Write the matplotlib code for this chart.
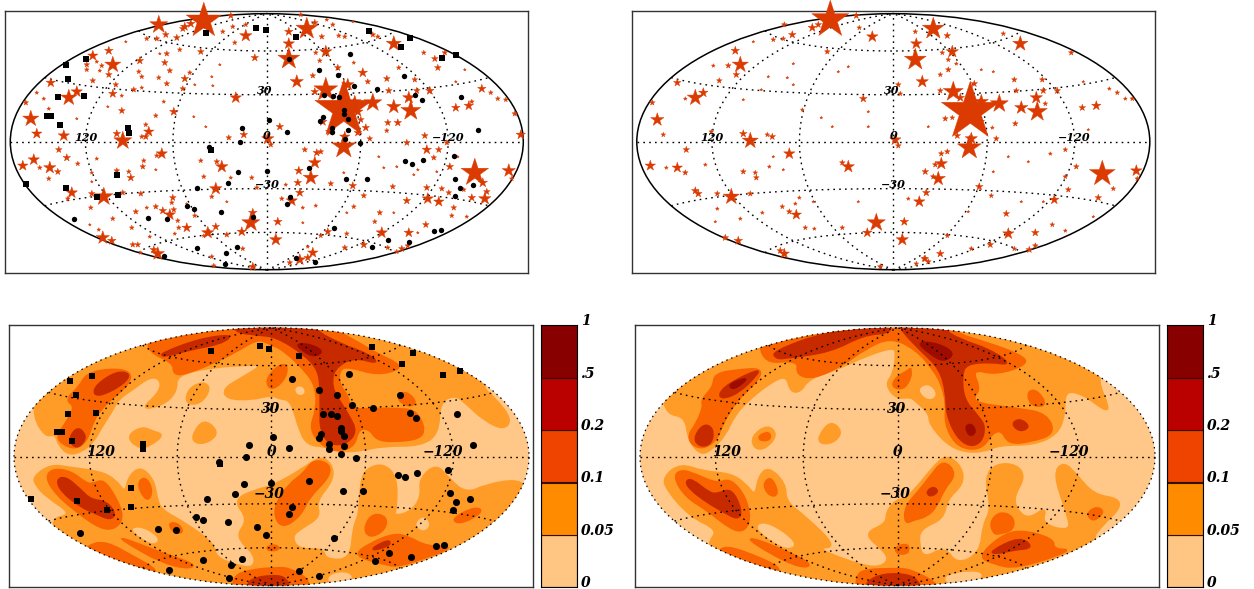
import numpy as np
import matplotlib
matplotlib.use('Agg')
import matplotlib.pyplot as plt
from matplotlib.patches import Ellipse, PathPatch
from matplotlib.path import Path

# all map positions below: plane of the Hammer map, 1 unit = 1 px of the source, origin at map centre
# star tuples are (x, y, weight)
left_stars_a = [(-108,117,9),(-63,121,18),(-82,115,4),(-76,118,4),(-84,113,3),(-101,107,3),(-110,103,2.5),(-120,103,2),(-90,104,3),(-21,106,6),
 (-12,84,3.5),(-32,99,2),(-44,110,2),(-34,115,2),(-36,126,3),(-21,117,2),(-66,90,3),(-87,92,2),(-100,88,2.5),(-102,79,3),
 (-97,71,2.5),(-82,63,3.5),(-77,69,2),(-84,53,2.5),(-100,58,2.5),(-108,64,2),(-127,81,3.5),(-128,70,2),(-125,65,2),(-133,52,2.5),
 (-125,54,1.5),(-154,77,8),(-158,67,3),(-151,57,2.5),(-154,48,4),(-145,46,1.5),(-158,91,4),(-174,86,5),(-180,77,2.5),(-180,72,2),
 (-165,76,2),(-170,80,1.5),(-167,71,1.5),(-174,61,2.5),(-216,59,4.5),(-198,44,8),(-190,50,5.5),(-223,43,1.5),(-230,49,1.5),(-241,39,2.5),
 (-236,23,8),(-218,33,1.5),(-230,8,5),(-203,6,5.5),(-208,-8,3),(-200,-16,3.5),(-233,-18,5.5),(-244,-24,5),(-227,-26,2),(-217,-26,6),
 (-209,-30,3),(-218,-37,2),(-189,-22,2),(-170,-17,1.5),(-175,-31,1.5),(-144,1,9),(-150,8,3.5),(-118,10,5),(-121,5,3),(-121,17,2),
 (-125,5,2),(-145,31,3),(-111,26,2),(-103,40,1.5),(-93,30,4),(-31,44,5.5),(-38,4,2.5),(-23,7,3.5),(-105,-12,5.5),(-110,-14,2),
 (-123,-19,2),(-124,-25,2.5),(-150,-29,2.5),(-138,-30,2),(-136,-36,3.5),(-195,-51,5.5),(-199,-57,2),(-175,-52,3),(-163,-55,9),(-144,-51,2.5),
 (-126,-52,2.5),(-176,-66,2),(-154,-77,2),(-168,-88,1.5),(-164,-96,6.5),(-155,-99,4),(-134,-103,2.5),(-129,-103,2.5),(-126,-111,1.5),(-113,-108,3.5),
 (-109,-112,6.5),(-135,-86,2),(-131,-70,2.5),(-120,-66,1.5),(-111,-65,2.5),(-104,-69,3.5),(-97,-73,5.5),(-94,-56,3),(-95,-61,2),(-93,-68,2.5),
 (-89,-79,2),(-88,-86,2),(-92,-92,1.5),(-80,-86,4.5),(-117,-95,1.5),(-72,-74,2),(-59,-91,6),(-51,-85,3.5),(-63,-35,2),(-66,-19,2),
 (-45,-25,6),(-50,-20,2.5),(-51,-47,6),(-55,-55,2),(-36,-36,1.5),(-15,-36,2),(-10,-46,2),(-16,-81,9),(-14,-71,4),(-25,-90,4.5),
 (-40,-93,2.5),(-63,-94,1.5),(-24,-107,2),(-55,-115,2),(-53,-124,2),(-14,-125,4)]
left_stars_b = [(40,113,11),(22,110,4),(22,98,5.5),(22,83,11),(59,90,6),(30,60,6.5),(55,105,2.5),(48,119,3),(66,117,2),(60,122,1.5),
 (34,127,2),(78,105,2),(72,106,2),(49,89,2),(53,81,2),(71,74,3),(46,66,2.5),(96,69,4.5),(101,60,2.5),(87,79,1.5),
 (120,63,3),(132,74,2),(127,98,7.5),(111,105,2),(106,107,2.5),(157,89,2),(168,83,3),(171,74,3),(178,89,2.5),(148,62,2.5),
 (163,51,4),(150,51,3),(122,51,3),(142,44,6),(127,35,7),(144,31,10),(131,19,3.5),(121,19,3),(120,11,2),(158,6,3),
 (140,-1,3),(160,-8,4.5),(172,-8,3),(180,-1,2.5),(167,-16,2.5),(183,-25,3.5),(208,-31,14),(216,-41,4.5),(220,-50,3),(218,-57,6),
 (205,-56,3.5),(242,-29,6.5),(245,-37,2),(254,7,4.5),(248,28,2.5),(239,42,2),(231,43,2),(224,49,2),(215,53,4),(202,36,4.5),
 (189,34,4),(205,40,2),(172,-60,5),(161,-57,5.5),(160,-46,3),(175,-47,2.5),(182,-51,2.5),(197,-48,2),(140,-59,3.5),(187,-66,2.5),
 (185,-74,2),(200,-75,1.5),(159,-83,3),(142,-91,4.5),(115,-91,5.5),(113,-71,2.5),(108,-80,2),(87,-65,2),(97,-54,2.5),(86,-44,3.5),
 (126,-45,2.5),(64,-42,2.5),(103,3,2.5),(91,9,3.5),(99,14,3.5),(77,-5,12),(78,5,5),(1,3,6),(4,-3,2.5),(13,15,3.5),
 (38,-8,2.5),(50,-11,3.5),(54,-10,2.5),(48,-21,6),(32,-29,4),(44,-36,7.5),(31,-41,3.5),(33,-51,4),(25,-59,5.5),(15,-57,2),
 (36,-66,1.5),(19,-43,1.5),(49,-64,1.5),(11,-80,4),(9,-98,6),(61,-90,3.5),(80,-92,2),(54,-94,2),(41,-105,1.5),(78,-106,2.5),
 (97,-103,3.5),(121,-106,2),(135,-107,3),(141,-104,2.5),(130,-110,2),(46,-111,5),(41,-116,3.5),(33,-118,5.5),(23,-121,2.5),
 (77,32,30),(106,39,9),(88,40,6),(59,52,12),(81,57,6),(91,30,5),(56,20,4),(63,10,4),(48,50,3.5),(94,22,3)]
left_stars_tiny = [(-141,100,1),(-107,88,1),(-190,23,1),(-159,35,1),(-73,25,1),(-61,15,1),(-111,-28,1),(-54,56,1),(-47,77,1),(-55,65,1),
 (-72,57,1),(-177,-83,1),(-175,-40,1),(198,72,1),(189,60,1),(151,-28,1),(147,-33,1),(117,-26,1),(77,-31,1),(191,-15,1),
 (36,-81,1),(127,-71,1),(86,120,1),(80,-71,1),(151,-91,1),(-80,-62,1),(-40,-60,1),(112,-15,1),(130,-25,1),(170,-30,1)]

right_stars_a = [(-63,122,19),(-37,126,3),(-81,114,4),(-75,117,3),(-109,117,2.5),(-101,107,3.5),(-110,103,2),(-120,102,2),(-66,90,2.5),(-34,114,2),
 (-21,105,5.5),(22,82,11),(23,98,5.5),(22,110,2),(29,60,6),(5,57,2.5),(7,48,2),(-30,43,3.5),(-158,91,4),(-153,77,8),
 (-157,67,3),(-165,76,2.5),(-180,76,1.5),(-174,61,2.5),(-216,59,3.5),(-198,44,8),(-190,49,4.5),(-208,43,1.5),(-241,39,2.5),(-236,22,6.5),
 (-230,7,2),(-182,10,2),(-143,1,8),(-150,8,3.5),(-121,5,3),(-126,7,2),(-91,32,1.5),(-104,-12,5.5),(-207,-8,3),(-243,-24,5),
 (-227,-26,1.5),(-216,-26,5),(-208,-31,2.5),(-188,-23,1.5),(-150,-30,2.5),(-138,-31,2),(-137,-36,2.5),(-124,-25,1.5),(-45,-25,6),(-51,-21,2.5),
 (-198,-49,3.5),(-195,-52,3.5),(-176,-52,2.5),(-162,-55,8),(-143,-52,2.5),(-176,-67,1.5),(-153,-77,1.5),(-168,-96,3),(-155,-99,4),(-113,-109,3),
 (-109,-112,5),(-111,-65,2),(-104,-70,2.5),(-97,-73,5),(-88,-86,2),(-79,-87,1.5),(-94,-56,1.5),(-98,-62,1.5),(-131,-71,1.5),(-51,-86,2),
 (-17,-81,9),(-26,-91,4.5),(11,-80,4),(9,-98,6),(-13,-125,2.5),(32,-30,3),(33,-51,3.5),(26,-60,5.5),(15,-57,1.5),(2,2,5.5),
 (5,-4,2.5),(32,-117,3),(23,-122,2)]
right_stars_b = [(40,113,11),(54,106,3),(59,90,6),(49,89,2),(55,82,2),(63,78,1.5),(55,72,2.5),(47,67,2),(60,50,10),(47,51,2.5),
 (77,30,30),(67,44,4),(81,58,3),(88,40,7),(106,38,9),(52,23,2.5),(59,24,2),(87,20,4),(99,14,1.5),(78,3,6),
 (76,-6,12),(64,6,3),(103,3,2.5),(121,62,2.5),(149,62,2.5),(123,51,2.5),(150,51,3),(164,51,3),(143,44,6),(128,34,6.5),
 (144,30,10),(152,38,2),(122,18,2.5),(127,98,7.5),(110,108,2),(178,89,2.5),(189,34,3),(203,36,4.5),(224,49,2),(216,53,1.5),
 (239,43,2),(232,43,1.5),(209,-32,13),(243,-29,5.5),(244,-37,2),(220,-47,2),(205,-56,3),(183,-25,2.5),(175,-48,2.5),(161,-58,4.5),
 (172,-35,2),(172,-8,2),(157,-12,1.5),(86,-45,3.5),(98,-54,2),(48,-12,2.5),(54,-10,2.5),(48,-22,6),(42,-23,2.5),(45,-37,7),
 (40,-35,2.5),(113,-72,3),(115,-92,5.5),(142,-91,3.5),(159,-83,2),(172,-89,1.5),(54,-94,2),(78,-107,2),(97,-103,3),(121,-107,2),
 (136,-108,3),(142,-104,2.5),(47,-112,3.5),(31,-117,3),(35,-120,2.5)]
right_stars_tiny = [(-140,100,1),(-100,78,1),(-125,65,1),(-106,64,1),(-100,57,1),(-132,52,1),(-150,42,1),(-72,24,1),(-61,15,1),(-25,15,1),
 (-55,70,1),(-45,75,1),(-120,-15,1),(-110,-28,1),(-80,-60,1),(-35,-60,1),(-178,-80,1),(-25,30,1),(35,15,1),(115,-15,1),
 (135,-20,1),(100,-30,1),(88,72,1),(100,70,1),(150,-60,1),(200,-75,1),(195,12,1),(190,60,1),(75,-70,1),(128,-60,1)]

# black sources in the top left map
top_squares_x = [-61,-11,-1,-201,-181,-199,-183,-209,-220,-216,-207,-139,-138,-56,-150,-201,-241,-149,-170,102,29,143,134,175,189]
top_squares_y = [109,114,112,77,83,63,46,45,26,26,17,14,9,-8,-33,-46,-42,-53,-55,111,105,104,95,84,87]
top_dots_x = [-193,-119,-100,-80,-73,-46,-70,-39,-29,0,-58,-27,-25,2,-70,-41,-30,-42,-103,-14,22,52,71,83,87,110,137,148,155,194,211,57,66,72,77,77,81,56,53,20,65,65,81,78,93,187,138,145,156,42,79,100,188,193,206,188,23,20,167,174,67,121,142,105,29,48]
top_dots_y = [-77,-76,-77,-64,-67,-70,-46,-41,-30,-29,-5,0,14,22,-106,-111,-105,-122,-114,-75,83,72,67,88,56,53,66,47,42,45,12,47,46,45,32,28,23,25,21,10,14,10,12,3,-1,-14,-19,-22,-18,-26,-37,-37,-37,-46,-43,-54,-55,-62,-89,-88,-86,-98,-100,-105,-116,-120]

# black sources in the bottom left map
low_squares_x = [-60,-11.5,-2,-201,-179,-195,-203,-175,-214,-209,-199,-128,-128,-51,-140,-194,-240,-140,-164,27.5,101,142,131,172,189]
low_squares_y = [106,111,108,76,81,62,43,44,25,25,16,13,8,-7,-31,-44,-42,-50,-53,101,110,104,93,82,86]
low_dots_x = [-191,-113,-95,-75,-68,-43,-64,-36,-27,0,-52,-25,-22,2,-68,-40,-29,-42,-102,-14,-5,21,48,66,78,81,102,129,139,145,186,202,52,60,66,70,70,73,50,48,18,58,58,73,70,84.5,177,127,134,146,38,72,92,179,185,199,182,21,18,165,173,63,118,140,104,28,48]
low_dots_y = [-76,-72,-73,-60,-63,-65,-42,-37,-27,-26,-5,0,12,20,-103,-108,-102,-121,-113,-70,-78,78,67,62,83,52,49,62,44,39,43,12,43,43,41,29,26,21,23,19,9,13,8,11,3,-1,-13,-18,-20,-16,-24,-34,-34,-36,-45,-42,-53,-50,-57,-89,-88,-81,-96,-100,-104,-114,-119]

# filled density bands, bottom left map
p3_orange = [
 [(-240,140),(-235,65),(-238,40),(-226,20),(-216,23),(-213,12),(-203,2),(-190,5),(-178,15),(-171,28),(-160,45),(-153,58),(-138,68),(-122,80),(-111,78),(-111,65),(-131,47),(-108,52),(-95,65),(-95,82),(-58,90),(-18,92),(-8,92),(-31,78),(-48,68),(-45,58),(-20,57),(0,62),(8,58),(18,57),(24,42),(27,30),(35,12),(55,10),(70,5),(88,6),(112,11),(149,11),(167,23),(168,55),(184,62),(195,53),(212,37),(232,27),(240,37),(225,57),(207,73),(240,80),(240,140)],
 [(-200,-140),(-225,-63),(-198,-58),(-225,-40),(-236,-28),(-238,-20),(-221,-8),(-201,-11),(-171,-15),(-156,-23),(-146,-37),(-143,-20),(-131,-10),(-118,-23),(-115,-40),(-111,-53),(-85,-67),(-58,-87),(-56,-100),(-38,-108),(-18,-112),(-16,-98),(-36,-80),(-23,-63),(-38,-43),(-15,-33),(-1,-30),(18,-20),(34,-10),(49,0),(60,-7),(62,-23),(44,-45),(49,-60),(29,-72),(20,-80),(27,-93),(52,-92),(54,-103),(79,-103),(82,-70),(88,-57),(89,-26),(95,-12),(112,-7),(125,-20),(125,-50),(122,-60),(140,-55),(150,-40),(148,-22),(165,-7),(178,-23),(195,-37),(215,-28),(244,-23),(255,-30),(260,-140)],
 [(-145,20),(-130,30),(-118,25),(-108,22),(-120,12),(-132,8)],
 [(-80,20),(-68,38),(-53,25),(-62,15),(-75,13)],
 [(-86,53),(-83,68),(-68,75),(-61,68),(-71,53)]]
p3_pale = [
 [(-140,-72),(-128,-72),(-113,-82),(-118,-87),(-131,-80)],
 [(144,-68),(152,-60),(158,-68),(152,-74)],
 [(58,-118),(78,-116),(80,-125),(58,-128)],
 [(24,68),(30,70),(33,64),(27,62)]]
p3_red = [
 [(-206,57),(-192,70),(-185,83),(-161,88),(-140,85),(-143,72),(-161,57),(-170,48),(-178,37),(-185,15),(-196,8),(-208,12),(-215,20),(-206,33),(-196,50)],
 [(-123,105),(-98,94),(-98,83),(-88,82),(-55,95),(-32,107),(-14,118),(-2,113),(12,107),(37,83),(45,67),(45,47),(38,27),(52,10),(68,5),(83,11),(87,28),(98,28),(105,17),(122,15),(149,18),(153,29),(145,45),(132,48),(102,48),(78,47),(77,60),(67,73),(68,88),(78,90),(105,82),(127,87),(127,93),(105,103),(82,117),(60,128),(40,140),(-60,140),(-123,120)],
 [(-6,76),(5,90),(16,93),(14,78),(0,66)],
 [(127,62),(135,65),(145,55),(139,50),(128,55)],
 [(-226,-20),(-218,-12),(-200,-15),(-185,-27),(-178,-27),(-168,-23),(-156,-40),(-148,-60),(-156,-72),(-171,-72),(-195,-55),(-216,-37)],
 [(-134,-27),(-127,-20),(-120,-30),(-121,-42),(-127,-42)],
 [(-103,-66),(-93,-67),(-88,-76),(-98,-76)],
 [(-155,-79),(-111,-96),(-75,-108),(-85,-112),(-111,-105),(-138,-90)],
 [(-183,-88),(-165,-85),(-138,-100),(-111,-115),(-130,-125),(-190,-100)],
 [(-38,-119),(-20,-113),(8,-111),(18,-112),(37,-122),(37,-135),(-38,-135)],
 [(-5,-90),(5,-88),(8,-93),(-3,-94)],
 [(42,-3),(58,-7),(58,-20),(38,-40),(32,-53),(24,-63),(12,-70),(4,-63),(4,-47),(18,-27),(32,-17)],
 [(94,-67),(102,-57),(115,-60),(114,-72),(102,-80),(94,-77)],
 [(84,-97),(98,-87),(122,-77),(137,-80),(155,-90),(184,-90),(148,-103),(125,-110),(112,-107),(95,-103)],
 [(180,-63),(199,-52),(210,-52),(207,-58),(189,-67)]]
p3_dark = [
 [(-178,62),(-175,72),(-155,85),(-141,83),(-148,73),(-168,62)],
 [(-203,17),(-195,29),(-188,25),(-186,17),(-195,8)],
 [(-111,103),(-71,118),(-38,122),(-51,113),(-78,108),(-108,100)],
 [(-38,125),(-15,122),(5,120),(32,103),(47,87),(49,68),(49,47),(49,27),(58,12),(75,13),(85,25),(78,40),(67,57),(60,70),(62,88),(82,100),(107,93),(98,102),(68,113),(42,127),(42,140),(-38,140)],
 [(-215,-23),(-206,-20),(-191,-33),(-181,-43),(-165,-45),(-156,-57),(-161,-63),(-175,-57),(-191,-50),(-210,-35)],
 [(-23,-122),(8,-118),(17,-125),(17,-135),(-23,-135)],
 [(100,-92),(117,-83),(119,-88),(105,-93)]]
p3_darkest = [[(25,113),(40,112),(52,105),(42,100),(30,107)]]

# filled density bands, bottom right map
p4_orange = [
 [(-240,140),(-235,65),(-231,43),(-212,40),(-209,17),(-197,2),(-186,7),(-172,22),(-164,40),(-151,55),(-129,73),(-111,82),(-107,65),(-97,65),(-89,78),(-59,88),(-34,100),(-4,110),(-1,103),(-4,83),(-12,72),(-1,58),(13,60),(19,55),(32,43),(32,33),(49,13),(66,5),(86,5),(102,12),(136,12),(159,22),(167,40),(167,67),(187,62),(206,47),(212,48),(199,78),(210,90),(240,90),(240,140)],
 [(-190,-130),(-190,-87),(-179,-73),(-207,-60),(-231,-33),(-234,-20),(-217,-7),(-194,-15),(-167,-17),(-152,-27),(-142,-40),(-139,-20),(-129,-10),(-112,-27),(-112,-45),(-92,-60),(-61,-90),(-81,-91),(-54,-103),(-22,-112),(-9,-105),(-12,-95),(-34,-77),(-11,-67),(-11,-55),(-1,-43),(7.5,-43),(22.5,-27),(36,-10),(49,2),(64,-10),(66,-27),(49,-43),(46,-62),(22.5,-72),(21,-87),(26,-102),(47.5,-90),(59,-108),(82.5,-97),(86,-67),(94,-53),(87.5,-20),(99,-7),(119,-8),(127.5,-20),(116,-40),(119,-53),(131,-63),(149,-50),(144,-68),(174,-75),(169,-55),(156,-17),(166,-5),(179,-18),(196,-38),(221,-42),(222,-52),(206,-67),(192,-85),(230,-130)],
 [(-146,20),(-130,32),(-120,22),(-132,8),(-143,8)],
 [(-79,20),(-67,36),(-55,25),(-64,14),(-77,13)]]
p4_pale = [
 [(21,67),(31,72),(39,62),(31,57)],
 [(-141,-68),(-127,-68),(-101,-87),(-111,-92),(-134,-78)],
 [(49,-118),(82,-115),(84,-122),(49,-127)]]
p4_red = [
 [(-139,21),(-128,25),(-127,17),(-137,16)],
 [(-196,57),(-184,70),(-183,83),(-157,87),(-136,88),(-139,77),(-157,60),(-167,47),(-176,30),(-181,17),(-194,8),(-206,12),(-209,22),(-201,33),(-194,50)],
 [(-137.5,93),(-99,97),(-101,82),(-84,78),(-54,92),(-34,107),(-7,120),(19,107),(36,87),(44,73),(49,53),(47.5,33),(57.5,13),(72.5,7),(86,10),(94,23),(104,27),(111,13),(132.5,15),(157.5,23),(149,43),(121,48),(79,53),(76,60),(82.5,68),(74,88),(99,82),(131,93),(122.5,102),(92.5,113),(52.5,125),(60,140),(-137,140)],
 [(-6,70),(-1,80),(13,87),(12.5,90),(14,80),(6,67)],
 [(131,66),(140,66),(149,52),(138,50),(131,56)],
 [(-224,-20),(-216,-13),(-201,-18),(-181,-27),(-167,-22),(-152,-40),(-147,-63),(-154,-75),(-167,-72),(-191,-53),(-212,-40)],
 [(-134,-27),(-127,-20),(-120,-33),(-122,-40),(-130,-37)],
 [(-154,-79),(-121,-90),(-84,-108),(-97,-111),(-127,-97)],
 [(-176,-90),(-157,-93),(-111,-113),(-135,-120),(-180,-100)],
 [(-41,-120),(-34,-113),(-1,-112),(13,-113),(39,-126),(39,-135),(-41,-135)],
 [(-2,-90),(11,-87),(11,-97),(-1,-97)],
 [(7.5,-67),(7.5,-50),(22.5,-33),(32.5,-20),(46,-3),(59,-17),(46,-33),(39,-50),(29,-60),(16,-63)],
 [(92.5,-65),(102.5,-55),(116,-60),(116,-73),(102.5,-77),(96,-77)],
 [(81,-100),(102.5,-80),(122.5,-73),(156,-82),(156,-93),(176,-93),(119,-112),(96,-107)],
 [(189,-57),(199,-50),(207,-55),(196,-65)]]
p4_dark = [
 [(-179,62),(-169,73),(-137.5,88),(-142.5,80),(-157.5,65),(-174,58)],
 [(-204,18),(-194,33),(-184,28),(-186,13),(-197,10)],
 [(-121,98),(-110,99),(-67,105),(-34,122),(-8,124),(-8,130),(-70,125),(-125,105)],
 [(2.5,128),(22.5,107),(42.5,88),(49,63),(49,43),(59,20),(72.5,10),(84,15),(87.5,30),(81,40),(66,57),(64,82),(69,93),(92.5,95),(114,92),(92.5,107),(62.5,117),(46,127),(46,140),(2.5,140)],
 [(-212,-25),(-206,-22),(-187.5,-37),(-179,-37),(-166,-32),(-156,-53),(-159,-63),(-174,-55),(-191,-45),(-207,-33)],
 [(-31,-125),(-14,-117),(13,-118),(22.5,-127),(22.5,-135),(-31,-135)],
 [(92.5,-95),(122.5,-80),(136,-91),(116,-93),(99,-97)],
 [(114,33),(122.5,38),(132.5,30),(122.5,25)],
 [(29,-35),(36,-30),(41,-35),(32.5,-40)]]
p4_darkest = [
 [(19,115),(41,113),(57.5,103),(46,95),(32.5,103)],
 [(67.5,30),(74,33),(78.5,25),(72.5,20)],
 [(-169,72),(-154,78),(-151,77),(-164,67)]]

scale_labels = ['0','0.05','0.1','0.2','.5','1']
scale_colors = ['#FFC583','#FF8C00','#EE4400','#BB0000','#880000']
band_colors = ['#FFC888','#FF9C28','#FA6400','#C82A00','#9E0B00']
star_color = '#DB3A00'
W,H = 1254.,589.


def panel(x0,y0,x1,y1,cx,cy):
    ax=plt.axes([x0/W,1-y1/H,(x1-x0)/W,(y1-y0)/H])
    ax.set_xlim(x0-cx,x1-cx)
    ax.set_ylim(cy-y1,cy-y0)
    ax.set_xticks([])
    ax.set_yticks([])
    for s in ax.spines.values():
        s.set_color('#333333')
        s.set_linewidth(1.0)
    return ax


def hammer(lon,lat,hw):
    lam=np.radians(lon)
    phi=np.radians(lat)
    a=np.sqrt(1+np.cos(phi)*np.cos(lam/2))
    return hw*np.cos(phi)*np.sin(lam/2)/a,hw/2*np.sin(phi)/a


def graticule(ax,hw):
    dots=(0,(1.2,3.0))
    t=np.linspace(-90,90,181)
    for lon in [-120,-60,0,60,120]:
        x,y=hammer(lon+0*t,t,hw)
        ax.plot(x,y,color='k',lw=1.0,ls=dots,zorder=4)
    t=np.linspace(-180,180,181)
    for lat in [-60,-30,0,30,60]:
        x,y=hammer(t,lat+0*t,hw)
        ax.plot(x,y,color='k',lw=1.0,ls=dots,zorder=4)


def blob(ax,pts,color,clip,z):
    # closed curve, the read points act as the control points
    pts=np.array(pts,dtype=float)
    mids=(pts+np.roll(pts,-1,axis=0))/2
    verts=[mids[-1]]
    codes=[Path.MOVETO]
    for p,m in zip(pts,mids):
        verts+=[p,m]
        codes+=[Path.CURVE3,Path.CURVE3]
    # stroke makes up for the corners the curve cuts
    patch=PathPatch(Path(verts,codes),fc=color,ec=color,lw=1.6,zorder=z)
    ax.add_patch(patch)
    patch.set_clip_path(clip)


def draw_stars(ax,groups):
    d=np.array(sum(groups,[]),dtype=float)
    ax.scatter(d[:,0],d[:,1],s=2.07*(d[:,2]+0.5)**2,marker='*',color=star_color,linewidths=0.3,zorder=5,clip_on=False)


def labels(ax,pos,size,weight):
    for txt,x,y in pos:
        ax.text(x,y,txt,family='DejaVu Serif',style='italic',fontsize=size,fontweight=weight,ha='center',va='center',zorder=7)


def bar(x0,x1):
    ax=plt.axes([x0/W,1-587.3/H,(x1-x0)/W,262/H])
    ax.bar(0.5,np.ones(5),bottom=np.arange(5),width=1,color=scale_colors,edgecolor='#331100',linewidth=0.8)
    ax.set_xlim(0,1)
    ax.set_ylim(0,5)
    ax.set_xticks([])
    ax.yaxis.tick_right()
    ax.set_yticks(np.arange(6))
    ax.set_yticklabels(scale_labels,family='DejaVu Serif',style='italic',fontweight='bold',fontsize=10,va='baseline')
    ax.tick_params(axis='y',length=0,pad=3.3)


fig=plt.figure(figsize=(W/100,H/100),dpi=100)

# top row, points only
ax1=panel(5,11,528,272.6,266.8,141.7)
ax1.add_patch(Ellipse((0,0),513,256,fc='none',ec='k',lw=1.1,zorder=4))
graticule(ax1,256.5)
draw_stars(ax1,[left_stars_a,left_stars_b,left_stars_tiny])
ax1.scatter(top_squares_x,top_squares_y,s=15,marker='s',color='k',linewidths=0,zorder=6)
ax1.scatter(top_dots_x,top_dots_y,s=15,marker='o',color='k',linewidths=0,zorder=6)
labels(ax1,[('120',-181,4),('30',-2,51),('0',0,6),('\u221230',0,-43),('\u2212120',181,4)],8,'bold')

ax2=panel(631.7,11,1155,272.6,893.3,141.7)
ax2.add_patch(Ellipse((0,0),513,256,fc='none',ec='k',lw=1.1,zorder=4))
graticule(ax2,256.5)
draw_stars(ax2,[right_stars_a,right_stars_b,right_stars_tiny])
labels(ax2,[('120',-181,4),('30',-2,51),('0',0,6),('\u221230',0,-43),('\u2212120',181,4)],8,'bold')

# bottom row, density bands
for box,c,bands,src in [((9,325,533,587),(271.5,456.7),(p3_orange,p3_pale,p3_red,p3_dark,p3_darkest),True),
                        ((635.3,325,1159,587),(897.5,456.7),(p4_orange,p4_pale,p4_red,p4_dark,p4_darkest),False)]:
    ax=panel(box[0],box[1],box[2],box[3],c[0],c[1])
    base=Ellipse((0,0),515,258,fc=band_colors[0],ec='none',zorder=1)
    ax.add_patch(base)
    orange,pale,red,dark,darkest=bands
    for p in orange: blob(ax,p,band_colors[1],base,2)
    for p in pale: blob(ax,p,band_colors[0],base,2.1)
    for p in red: blob(ax,p,band_colors[2],base,2.2)
    for p in dark: blob(ax,p,band_colors[3],base,2.3)
    for p in darkest: blob(ax,p,band_colors[4],base,2.4)
    graticule(ax,257.5)
    ax.add_patch(Ellipse((0,0),515,258,fc='none',ec='k',lw=0.9,ls=(0,(1.2,3.0)),zorder=4))
    if src:
        ax.scatter(low_squares_x,low_squares_y,s=24,marker='s',color='k',linewidths=0,zorder=6)
        ax.scatter(low_dots_x,low_dots_y,s=26,marker='o',color='k',linewidths=0,zorder=6)
    labels(ax,[('120',-171,5),('30',-1,48),('0',0,5),('\u221230',-3,-37),('\u2212120',171,5)],10,'bold')

bar(541.3,576.7)
bar(1167.3,1202.7)

fig.savefig('out.png',dpi=100)
